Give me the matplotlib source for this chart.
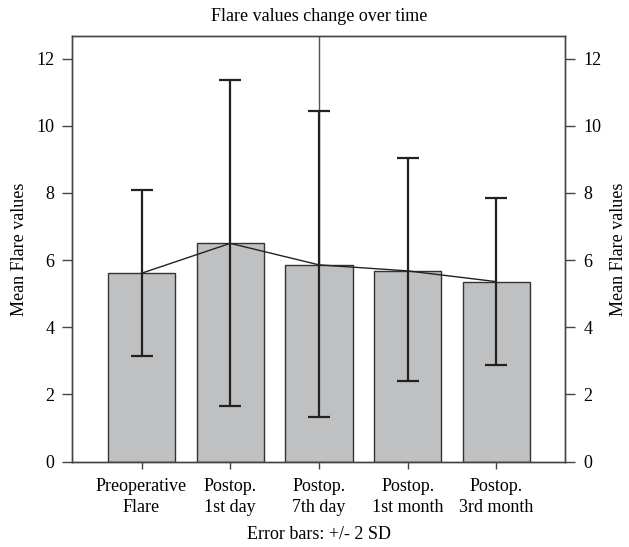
import matplotlib
matplotlib.use("Agg")
import matplotlib.pyplot as plt
import numpy as np

categories = ["Preoperative\nFlare", "Postop.\n1st day", "Postop.\n7th day", "Postop.\n1st month", "Postop.\n3rd month"]
means = [5.61, 6.50, 5.86, 5.68, 5.36]
upper = [8.09, 11.35, 10.44, 9.03, 7.86]
lower = [3.15, 1.66, 1.34, 2.39, 2.87]
yticks = [0, 2, 4, 6, 8, 10, 12]

plt.rcParams['font.family'] = ['Liberation Serif', 'DejaVu Serif']
FS = 13

fig = plt.figure(figsize=(6.29, 5.47), dpi=100)
ax = fig.add_axes([0.115, 0.156, 0.784, 0.778])

x = np.arange(1, len(categories) + 1)
m = np.array(means)
yerr = [m - np.array(lower), np.array(upper) - m]

ax.bar(x, m, width=0.76, color="#bfc0c2", edgecolor="#333333", linewidth=1.0, zorder=2)
ax.axvline(3, color="#555555", linewidth=1.0, zorder=1)
ax.plot(x, m, color="#222222", linewidth=1.0, zorder=3)
ax.errorbar(x, m, yerr=yerr, fmt="none", ecolor="#222222", elinewidth=1.6,
            capsize=8, capthick=1.6, zorder=4)

ax.set_xlim(0.22, 5.78)
ax.set_ylim(0, 12.67)
ax.set_xticks(x)
ax.set_xticklabels(categories, fontsize=FS, linespacing=1.3)
ax.set_yticks(yticks)
ax.tick_params(axis='y', direction='out', length=7, width=1, color="#444444", labelsize=FS, pad=6)
ax.tick_params(axis='x', direction='out', length=5, width=1, color="#444444", labelsize=FS, pad=7)

for s in ax.spines.values():
    s.set_color("#444444")
    s.set_linewidth(1.0)

ax.set_ylabel("Mean Flare values", fontsize=FS, labelpad=6)
ax.set_xlabel("Error bars: +/- 2 SD", fontsize=FS, labelpad=7)
ax.set_title("Flare values change over time", fontsize=FS, pad=11)

ax2 = ax.twinx()
ax2.set_ylim(ax.get_ylim())
ax2.set_yticks(yticks)
ax2.tick_params(axis='y', direction='out', length=7, width=1, color="#444444", labelsize=FS, pad=6)
ax2.set_ylabel("Mean Flare values", fontsize=FS, labelpad=6)
for s in ax2.spines.values():
    s.set_color("#444444")
    s.set_linewidth(1.0)

fig.savefig("out.png", dpi=100)
